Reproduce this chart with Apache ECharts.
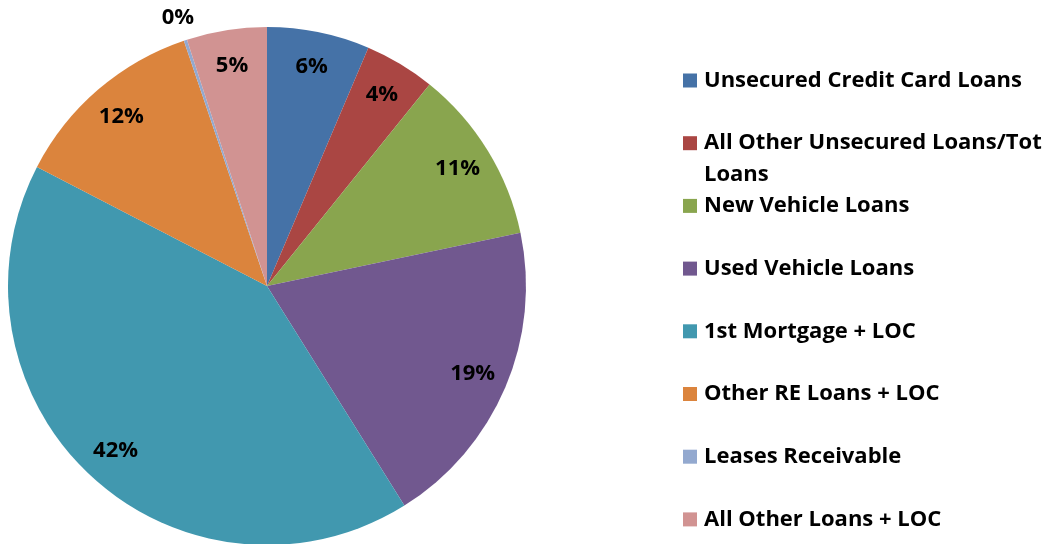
<!DOCTYPE html>
<html>
<head>
<meta charset="utf-8">
<script src="https://cdn.jsdelivr.net/npm/echarts@6/dist/echarts.min.js"></script>
<style>
    html, body { margin: 0; padding: 0; background: #fff; }
    #chart { width: 1055px; height: 544px; }
</style>
</head>
<body>
<div id="chart"></div>
<script>
// Loan mix (% of total loans)
const categories = [
    'Unsecured Credit Card Loans',
    'All Other Unsecured Loans/Tot Loans',
    'New Vehicle Loans',
    'Used Vehicle Loans',
    '1st Mortgage + LOC',
    'Other RE Loans + LOC',
    'Leases Receivable',
    'All Other Loans + LOC',
];
const shares = [6.4, 4.4, 10.9, 19.4, 41.5, 12.2, 0.2, 5.0];
const colors = ['#4572A7', '#AA4643', '#89A54E', '#71588F', '#4198AF', '#DB843D', '#93A9CF', '#D19392'];

const FONT = 'Open Sans';
const FONT_SIZE = 22;
const center = [267, 286];
const R = 259;

const pieData = categories.map((name, i) => ({
    name,
    value: shares[i],
    itemStyle: { color: colors[i] },
}));

const pctLabel = (p) => Math.round(p.percent) + '%';

// invisible copy of the pie, only used to place labels at a given radius
function labelRing(r0, r1, showFn) {
    return {
        type: 'pie',
        radius: [r0, r1],
        center,
        startAngle: 90,
        silent: true,
        legendHoverLink: false,
        avoidLabelOverlap: false,
        itemStyle: { color: 'rgba(0,0,0,0)' },
        emphasis: { disabled: true },
        label: {
            show: true,
            position: 'inside',
            formatter: (p) => showFn(p.dataIndex) ? pctLabel(p) : '',
            color: '#000',
            fontFamily: FONT,
            fontWeight: 'bold',
            fontSize: FONT_SIZE,
        },
        labelLine: { show: false },
        data: categories.map((name, i) => ({ name: name + ' ', value: shares[i] })),
    };
}

// one legend block per entry so the wrapped entry keeps the row spacing
const legendRow0 = 80.5;
const legendStep = 62.7;
const legends = categories.map((name, i) => {
    const wrapped = i === 1;
    const lh = wrapped ? 32 : 26;
    const rowY = legendRow0 + legendStep * i;
    return {
        data: [name],
        orient: 'vertical',
        left: 683,
        top: wrapped ? rowY - lh * 1.5 : rowY - lh / 2,
        padding: 0,
        itemWidth: 14,
        itemHeight: 14,
        itemGap: 0,
        icon: 'rect',
        selectedMode: false,
        formatter: (n) => n === categories[1] ? '\nAll Other Unsecured Loans/Tot\nLoans' : n,
        textStyle: {
            color: '#000',
            fontFamily: FONT,
            fontWeight: 'bold',
            fontSize: FONT_SIZE,
            lineHeight: lh,
            padding: [0, 0, 0, 2],
        },
    };
});

const chart = echarts.init(document.getElementById('chart'), null, { renderer: 'canvas' });
chart.setOption({
    animation: false,
    backgroundColor: '#fff',
    legend: legends,
    series: [
        {
            type: 'pie',
            radius: [0, R],
            center,
            startAngle: 90,
            clockwise: true,
            avoidLabelOverlap: false,
            label: { show: false },
            labelLine: { show: false },
            data: pieData,
        },
        labelRing(182, R, (i) => i !== 6),
        labelRing(268, 292, (i) => i === 6),
    ],
});
</script>
</body>
</html>
